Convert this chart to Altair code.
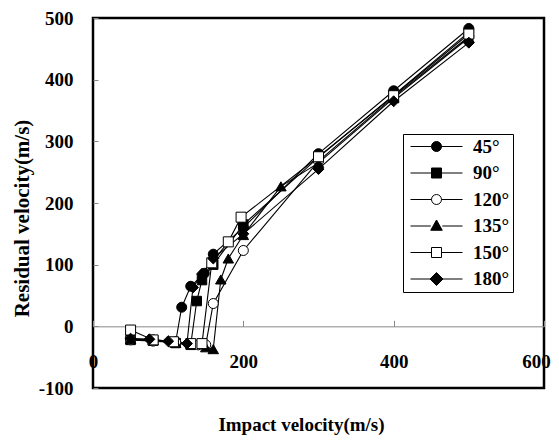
import altair as alt
import pandas as pd

series_names = ["45°", "90°", "120°", "135°", "150°", "180°"]

x45 = [50, 80, 110, 118, 130, 148, 160, 200, 300, 400, 500]
y45 = [-20, -22, -25, 31, 65, 86, 117, 160, 280, 382, 483]

x90 = [50, 80, 110, 130, 138, 145, 160, 200, 300, 400, 500]
y90 = [-22, -23, -27, -30, 41, 75, 100, 165, 274, 375, 477]

x120 = [50, 80, 110, 140, 150, 160, 200, 300, 400, 500]
y120 = [-22, -24, -26, -30, -30, 37, 123, 268, 372, 470]

x135 = [50, 80, 110, 150, 160, 170, 180, 200, 250, 300, 400, 500]
y135 = [-21, -23, -27, -34, -37, 76, 110, 148, 227, 265, 370, 468]

x150 = [50, 80, 107, 130, 145, 158, 180, 197, 300, 400, 500]
y150 = [-6, -22, -25, -28, -28, 103, 137, 177, 275, 374, 474]

x180 = [50, 75, 100, 125, 133, 145, 160, 200, 300, 400, 500]
y180 = [-20, -21, -24, -28, 63, 85, 110, 150, 255, 365, 460]

x_ticks = [0, 200, 400, 600]
y_ticks = [-100, 0, 100, 200, 300, 400, 500]

xs = [x45, x90, x120, x135, x150, x180]
ys = [y45, y90, y120, y135, y150, y180]
rows = []
for name, xv, yv in zip(series_names, xs, ys):
    for i, (a, b) in enumerate(zip(xv, yv)):
        rows.append({"series": name, "v": a, "r": b, "i": i})
df = pd.DataFrame(rows)

W, H = 451, 370
FONT = "Liberation Serif"

xscale = alt.Scale(domain=[0, 600], nice=False, zero=False)
yscale = alt.Scale(domain=[-100, 500], nice=False, zero=False)

plot_shapes = ["circle", "square", "circle", "triangle-up", "square", "diamond"]
plot_sizes = [100, 90, 100, 110, 100, 120]
fills = ["black", "black", "white", "black", "white", "black"]

# legend symbols: line - marker - line (unit = half marker size)
leg_shapes = [
    "M-1,0H3.2M5.2,0A1,1 0 1,1 3.2,0A1,1 0 1,1 5.2,0ZM5.2,0H9.4",
    "M-1,0H3.2M3.2,-1H5.2V1H3.2ZM5.2,0H9.4",
    "M-1,0H3.2M5.2,0A1,1 0 1,1 3.2,0A1,1 0 1,1 5.2,0ZM5.2,0H9.4",
    "M-1,0H3.05M4.2,-1.2L5.35,0.85L3.05,0.85ZM5.35,0H9.4",
    "M-1,0H3.2M3.2,-1H5.2V1H3.2ZM5.2,0H9.4",
    "M-1,0H2.9M4.2,-1.3L5.5,0L4.2,1.3L2.9,0ZM5.5,0H9.4",
]

base = alt.Chart(df)

lines = base.mark_line(color="black", strokeWidth=1.1).encode(
    x=alt.X("v:Q", scale=xscale,
            axis=alt.Axis(orient="bottom", values=x_ticks, domain=False, ticks=False,
                          grid=False, labelPadding=-36, labelFlush=False,
                          labelOffset={"condition": {"test": "datum.value == 600", "value": -8},
                                       "value": 0},
                          labelFont=FONT, labelFontSize=19, labelFontWeight="bold",
                          labelColor="black",
                          title="Impact velocity(m/s)", titleFont=FONT, titleFontSize=19,
                          titleFontWeight="bold", titleColor="black",
                          titleX=208, titleY=36, titleBaseline="middle")),
    y=alt.Y("r:Q", scale=yscale,
            axis=alt.Axis(orient="left", values=y_ticks, domain=False, ticks=False,
                          grid=False, labelPadding=20, labelExpr="'' + datum.value",
                          labelFont=FONT, labelFontSize=19, labelFontWeight="bold",
                          labelColor="black",
                          title="Residual velocity(m/s)", titleFont=FONT, titleFontSize=21,
                          titleFontWeight="bold", titleColor="black",
                          titleX=-71, titleY=200, titleBaseline="middle")),
    detail="series:N",
    order="i:Q",
)

point_layers = []
for k, name in enumerate(series_names):
    if k == 0:
        xenc = alt.X("v:Q", scale=xscale,
                     axis=alt.Axis(orient="top", offset=-H * 500 / 600, values=x_ticks,
                                   labels=False, domain=True, domainColor="#888888",
                                   domainWidth=1, ticks=True, tickColor="#888888",
                                   tickSize=6, tickWidth=1, grid=False, title=None))
        yenc = alt.Y("r:Q", scale=yscale,
                     axis=alt.Axis(orient="right", offset=-W, values=y_ticks, labels=False,
                                   domain=False, ticks=True, tickColor="#888888", tickSize=5,
                                   tickWidth=1, grid=False, title=None))
    else:
        xenc = alt.X("v:Q", scale=xscale, axis=None)
        yenc = alt.Y("r:Q", scale=yscale, axis=None)
    layer = base.transform_filter(alt.datum.series == name).mark_point(
        shape=plot_shapes[k], size=plot_sizes[k], filled=True, fill=fills[k],
        stroke="black", strokeWidth=1, opacity=1
    ).encode(x=xenc, y=yenc)
    point_layers.append(layer)

legend_layer = base.transform_filter("false").mark_point(
    filled=True, strokeWidth=1, size=100
).encode(
    x=alt.X("v:Q", scale=xscale, axis=None),
    y=alt.Y("r:Q", scale=yscale, axis=None),
    shape=alt.Shape("series:N", scale=alt.Scale(domain=series_names, range=leg_shapes),
                    legend=alt.Legend(orient="none", legendX=310, legendY=116, title=None,
                                      padding=3, strokeColor="black", fillColor="white",
                                      labelFont=FONT, labelFontSize=19, labelFontWeight="bold",
                                      labelColor="black", symbolSize=100,
                                      symbolStrokeWidth=1,
                                      symbolOpacity=1, rowPadding=6.5, labelOffset=48,
                                      symbolLimit=0)),
    fill=alt.Fill("series:N", scale=alt.Scale(domain=series_names, range=fills)),
    stroke=alt.Stroke("series:N", scale=alt.Scale(domain=series_names, range=["black"] * 6)),
)

chart = alt.layer(lines, *point_layers, legend_layer).resolve_axis(
    x="independent", y="independent"
).properties(
    width=W, height=H,
    autosize=alt.AutoSizeParams(type="none"),
    padding={"left": 85, "top": 10, "right": 7, "bottom": 49},
).configure_view(
    stroke="black", strokeWidth=2.5
)

chart.save("out.html", embed_options={"renderer": "svg", "actions": False})
